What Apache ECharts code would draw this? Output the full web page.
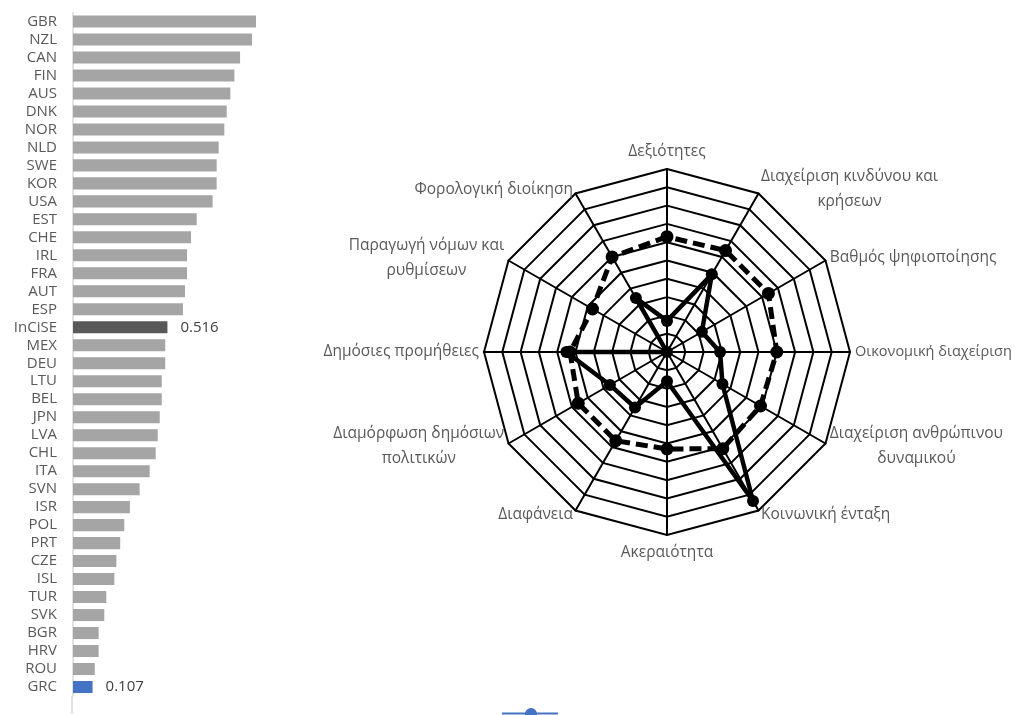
<!DOCTYPE html>
<html>
<head>
<meta charset="utf-8">
<script src="https://cdn.jsdelivr.net/npm/echarts@6/dist/echarts.min.js"></script>
<style>
html,body{margin:0;padding:0;background:#fff;}
#main{width:1018px;height:715px;}
</style>
</head>
<body>
<div id="main"></div>
<script>
// ---- Bar chart data (top to bottom) ----
const countries = ['GBR','NZL','CAN','FIN','AUS','DNK','NOR','NLD','SWE','KOR','USA','EST','CHE','IRL','FRA','AUT','ESP','InCiSE','MEX','DEU','LTU','BEL','JPN','LVA','CHL','ITA','SVN','ISR','POL','PRT','CZE','ISL','TUR','SVK','BGR','HRV','ROU','GRC'];
const scores = [1.000,0.978,0.913,0.882,0.860,0.840,0.827,0.796,0.785,0.785,0.763,0.676,0.645,0.623,0.623,0.612,0.601,0.516,0.504,0.504,0.485,0.485,0.474,0.463,0.452,0.419,0.364,0.311,0.280,0.258,0.237,0.226,0.182,0.171,0.140,0.140,0.119,0.107];
const labelled = ['InCiSE','GRC'];

// ---- Radar data (clockwise from top) ----
const indicators = ['Δεξιότητες','Διαχείριση κινδύνου και\nκρήσεων','Βαθμός ψηφιοποίησης','Οικονομική διαχείριση','Διαχείριση ανθρώπινου\nδυναμικού','Κοινωνική ένταξη','Ακεραιότητα','Διαφάνεια','Διαμόρφωση δημόσιων\nπολιτικών','Δημόσιες προμήθειες','Παραγωγή νόμων και\nρυθμίσεων','Φορολογική διοίκηση'];
const solidValues  = [0.17,0.49,0.22,0.29,0.35,0.94,0.16,0.35,0.36,0.55,0.00,0.34];
const dashedValues = [0.63,0.64,0.64,0.60,0.59,0.61,0.53,0.56,0.56,0.53,0.47,0.60];
const narrowLabel = 'Οικονομική διαχείριση';

// ECharts draws radar indicators counter-clockwise: reorder to get clockwise layout
const order = [0].concat(indicators.map((_, i) => indicators.length - 1 - i).slice(0, indicators.length - 1));
const reorder = arr => order.map(i => arr[i]);

const barColor = name => name === 'InCiSE' ? '#595959' : (name === 'GRC' ? '#4472C4' : '#A5A5A5');

const FONT = '"Open Sans", "Noto Sans", sans-serif';

const chart = echarts.init(document.getElementById('main'), null, {renderer: 'canvas'});
chart.setOption({
  animation: false,
  backgroundColor: '#ffffff',
  textStyle: {fontFamily: FONT},
  grid: {left: 73, top: 12.5, width: 183, height: 683.5, containLabel: false},
  xAxis: {type: 'value', min: 0, max: 1, show: false},
  yAxis: {
    type: 'category', data: countries, inverse: true,
    axisLine: {show: true, lineStyle: {color: '#D9D9D9', width: 1.5}},
    axisTick: {show: false},
    axisLabel: {interval: 0, color: '#595959', fontSize: 15, margin: 16, fontFamily: FONT, hideOverlap: false},
    splitLine: {show: false}
  },
  radar: {
    center: [667, 352],
    radius: 183,
    startAngle: 90,
    splitNumber: 10,
    shape: 'polygon',
    indicator: reorder(indicators).map(n => ({name: n, min: 0, max: 1})),
    axisName: {
      color: '#595959', fontSize: 15.5, fontFamily: FONT, lineHeight: 25,
      formatter: n => n === narrowLabel ? '{n|' + n + '}' : n.split('\n').map(l => '{c|' + l + '}').join('\n'),
      rich: {
        c: {align: 'center', color: '#595959', fontSize: 15.5, fontFamily: FONT, lineHeight: 25},
        n: {color: '#595959', fontSize: 14.5, fontFamily: FONT, lineHeight: 25}
      }
    },
    nameGap: 5,
    axisLine: {lineStyle: {color: '#000', width: 2}},
    splitLine: {lineStyle: {color: '#000', width: 2}},
    splitArea: {show: false},
    axisTick: {show: false},
    axisLabel: {show: false}
  },
  graphic: [
    {type: 'line', shape: {x1: 72, y1: 696, x2: 72, y2: 714}, style: {stroke: '#D9D9D9', lineWidth: 1.5}, silent: true},
    {type: 'line', shape: {x1: 502, y1: 713.5, x2: 558, y2: 713.5}, style: {stroke: '#4472C4', lineWidth: 2}, silent: true},
    {type: 'circle', shape: {cx: 531, cy: 714, r: 6}, style: {fill: '#4472C4'}, silent: true}
  ],
  series: [
    {
      type: 'bar',
      barCategoryGap: '33%',
      data: countries.map((c, i) => ({
        value: scores[i],
        itemStyle: {color: barColor(c)},
        label: {
          show: labelled.includes(c), position: 'right', distance: 13,
          color: '#404040', fontSize: 15, fontFamily: FONT,
          formatter: p => p.value.toFixed(3)
        }
      }))
    },
    {
      type: 'radar',
      symbol: 'circle',
      z: 3,
      data: [
        {
          value: reorder(dashedValues),
          symbolSize: 13,
          lineStyle: {color: '#000', width: 5, type: [12, 6]},
          itemStyle: {color: '#000'},
          areaStyle: {opacity: 0}
        },
        {
          value: reorder(solidValues),
          symbolSize: 12,
          lineStyle: {color: '#000', width: 4.5, type: 'solid'},
          itemStyle: {color: '#000'},
          areaStyle: {opacity: 0}
        }
      ]
    }
  ]
});
</script>
</body>
</html>
